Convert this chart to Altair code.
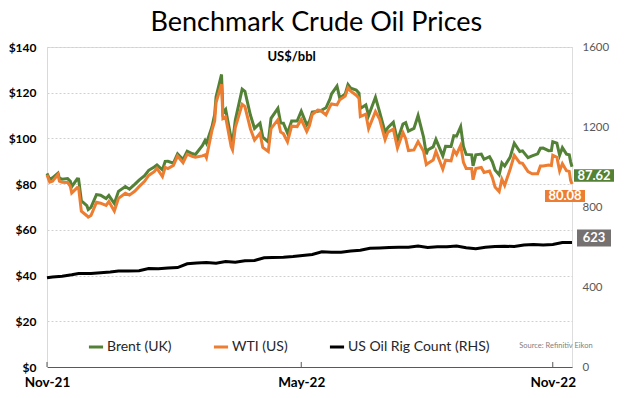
import altair as alt
import pandas as pd

# ---------------- data ----------------
dates = [
    "2021-11-01", "2021-11-03", "2021-11-05", "2021-11-09", "2021-11-10", "2021-11-12",
    "2021-11-16", "2021-11-18", "2021-11-19", "2021-11-23", "2021-11-24", "2021-11-26",
    "2021-11-30", "2021-12-01", "2021-12-03", "2021-12-07", "2021-12-10", "2021-12-14",
    "2021-12-16", "2021-12-20", "2021-12-23", "2021-12-28", "2021-12-31",
    "2022-01-04", "2022-01-07", "2022-01-11", "2022-01-14", "2022-01-18", "2022-01-20",
    "2022-01-24", "2022-01-26", "2022-01-28", "2022-02-01", "2022-02-04", "2022-02-08",
    "2022-02-11", "2022-02-15", "2022-02-17", "2022-02-22", "2022-02-24", "2022-02-25",
    "2022-03-01", "2022-03-03", "2022-03-04", "2022-03-08", "2022-03-09", "2022-03-11",
    "2022-03-15", "2022-03-16", "2022-03-18", "2022-03-23", "2022-03-25", "2022-03-29",
    "2022-04-01", "2022-04-05", "2022-04-07", "2022-04-11", "2022-04-13", "2022-04-18",
    "2022-04-20", "2022-04-22", "2022-04-25", "2022-04-28", "2022-05-02", "2022-05-05",
    "2022-05-09", "2022-05-11", "2022-05-13", "2022-05-17", "2022-05-19", "2022-05-23",
    "2022-05-26", "2022-05-27", "2022-05-31", "2022-06-02", "2022-06-06", "2022-06-08",
    "2022-06-10", "2022-06-14", "2022-06-16", "2022-06-17", "2022-06-21", "2022-06-23",
    "2022-06-28", "2022-07-01", "2022-07-05", "2022-07-07", "2022-07-11", "2022-07-14",
    "2022-07-18", "2022-07-20", "2022-07-22", "2022-07-26", "2022-07-29", "2022-08-02",
    "2022-08-04", "2022-08-05", "2022-08-09", "2022-08-11", "2022-08-16", "2022-08-18",
    "2022-08-22", "2022-08-24", "2022-08-26", "2022-08-29", "2022-08-31", "2022-09-02",
    "2022-09-06", "2022-09-07", "2022-09-09", "2022-09-13", "2022-09-15", "2022-09-19",
    "2022-09-21", "2022-09-23", "2022-09-26", "2022-09-28", "2022-09-30", "2022-10-04",
    "2022-10-07", "2022-10-11", "2022-10-13", "2022-10-17", "2022-10-20", "2022-10-24",
    "2022-10-26", "2022-10-28", "2022-11-01", "2022-11-03", "2022-11-04", "2022-11-07",
    "2022-11-09", "2022-11-11", "2022-11-14", "2022-11-16", "2022-11-17", "2022-11-18",
]
brent = [
    84.71, 81.99, 82.74, 84.78, 82.64, 82.17,
    82.43, 81.24, 78.89, 82.31, 82.25, 72.72,
    70.57, 68.87, 69.88, 75.44, 75.15, 73.70,
    75.02, 71.52, 76.85, 78.94, 77.78,
    80.00, 81.75, 83.72, 86.06, 87.51, 88.38,
    86.27, 89.96, 90.03, 89.16, 93.27, 90.78,
    94.44, 93.28, 92.97, 96.84, 99.08, 97.93,
    104.97, 110.46, 118.11, 127.98, 111.14, 112.67,
    99.91, 98.02, 107.93, 121.60, 120.65, 110.23,
    104.39, 106.64, 100.58, 98.48, 108.78, 113.16,
    106.80, 106.65, 102.32, 107.59, 107.58, 111.90,
    105.94, 107.51, 111.55, 111.93, 112.04, 113.42,
    117.40, 119.43, 122.84, 117.61, 119.51, 123.58,
    122.01, 121.17, 119.81, 113.12, 114.65, 110.05,
    117.98, 111.63, 102.77, 104.65, 107.10, 99.10,
    106.27, 106.92, 103.20, 104.40, 110.01, 100.54,
    93.12, 94.92, 96.31, 99.60, 92.34, 96.59,
    96.48, 101.22, 100.99, 105.09, 96.49, 93.02,
    92.83, 88.00, 92.84, 93.17, 90.84, 92.00,
    89.83, 86.15, 84.06, 89.32, 87.96, 91.80,
    97.92, 94.29, 94.57, 91.62, 92.38, 93.26,
    95.69, 95.77, 94.65, 94.67, 98.57, 97.92,
    92.65, 95.99, 93.14, 92.86, 89.78, 87.62,
]
wti = [
    84.05, 80.86, 81.27, 84.15, 81.34, 80.79,
    80.76, 79.01, 76.10, 78.50, 78.39, 68.15,
    66.18, 65.57, 66.26, 72.05, 71.67, 70.73,
    72.38, 68.23, 73.79, 75.98, 75.21,
    76.99, 78.90, 81.22, 83.82, 85.43, 86.90,
    83.31, 87.35, 86.82, 88.20, 92.31, 89.36,
    93.10, 92.07, 91.76, 92.35, 92.81, 91.59,
    103.41, 107.67, 115.68, 123.70, 108.70, 109.33,
    96.44, 95.04, 104.70, 114.93, 113.90, 104.24,
    99.27, 102.28, 96.03, 94.29, 104.25, 108.21,
    102.75, 102.07, 98.54, 105.36, 105.17, 108.26,
    103.09, 105.71, 110.49, 112.40, 112.21, 110.29,
    114.09, 115.07, 114.67, 116.87, 118.50, 122.11,
    120.67, 118.93, 117.59, 109.56, 110.65, 104.27,
    111.76, 108.43, 99.50, 102.73, 104.09, 95.78,
    102.60, 99.88, 94.70, 94.98, 98.62, 94.42,
    88.54, 89.01, 90.50, 94.34, 86.53, 90.50,
    90.23, 94.89, 93.06, 97.01, 89.55, 86.87,
    86.88, 81.94, 86.79, 87.31, 85.10, 85.73,
    82.94, 78.74, 76.71, 82.15, 79.49, 86.52,
    92.64, 89.35, 89.11, 85.46, 84.51, 84.58,
    87.91, 87.90, 88.37, 88.17, 92.61, 91.79,
    85.83, 88.96, 85.87, 85.59, 81.64, 80.08,
]
rig_dates = [
    "2021-11-01", "2021-11-05", "2021-11-12", "2021-11-19", "2021-11-24", "2021-12-03",
    "2021-12-10", "2021-12-17", "2021-12-23", "2021-12-30", "2022-01-07", "2022-01-14",
    "2022-01-21", "2022-01-28", "2022-02-04", "2022-02-11", "2022-02-18", "2022-02-25",
    "2022-03-04", "2022-03-11", "2022-03-18", "2022-03-25", "2022-04-01", "2022-04-08",
    "2022-04-14", "2022-04-22", "2022-04-29", "2022-05-06", "2022-05-13", "2022-05-20",
    "2022-05-27", "2022-06-03", "2022-06-10", "2022-06-17", "2022-06-24", "2022-07-01",
    "2022-07-08", "2022-07-15", "2022-07-22", "2022-07-29", "2022-08-05", "2022-08-12",
    "2022-08-19", "2022-08-26", "2022-09-02", "2022-09-09", "2022-09-16", "2022-09-23",
    "2022-09-30", "2022-10-07", "2022-10-14", "2022-10-21", "2022-10-28", "2022-11-04",
    "2022-11-11", "2022-11-18",
]
rig = [
    446, 450, 454, 461, 467, 467,
    471, 475, 480, 480, 481, 492,
    491, 495, 497, 516, 520, 522,
    519, 527, 524, 531, 533, 546,
    548, 549, 552, 557, 563, 576,
    574, 574, 580, 584, 594, 595,
    597, 599, 599, 605, 598, 601,
    601, 605, 596, 591, 599, 602,
    604, 602, 610, 612, 610, 613,
    622, 623,
]
series_names = ["Brent (UK)", "WTI (US)", "US Oil Rig Count (RHS)"]
series_colors = ["#538135", "#ED7D31", "#000000"]
x_tick_dates = ["2021-11-01", "2022-05-05", "2022-11-04"]
left_ticks = [0, 20, 40, 60, 80, 100, 120, 140]
right_ticks = [0, 400, 800, 1200, 1600]
end_date = "2022-11-18"
last_brent, last_wti, last_rig = 87.62, 80.08, 623
title_text = "Benchmark Crude Oil Prices"

FONT = "Lato"

price_df = pd.concat([
    pd.DataFrame({"date": pd.to_datetime(dates), "value": brent, "series": series_names[0]}),
    pd.DataFrame({"date": pd.to_datetime(dates), "value": wti, "series": series_names[1]}),
])
rig_df = pd.DataFrame({"date": pd.to_datetime(rig_dates), "value": rig, "series": series_names[2]})
tick_df = pd.DataFrame({"date": pd.to_datetime(x_tick_dates)})
one_df = pd.DataFrame({"k": [1]})


def dt(s):
    y, m, d = (int(p) for p in s.split("-"))
    return alt.DateTime(year=y, month=m, date=d)


xscale = alt.Scale(domain=[dt("2021-11-01"), dt(end_date)])
xaxis = alt.Axis(values=[dt(s) for s in x_tick_dates], format="%b-%y", title=None,
                 labelFontWeight="bold", labelFontSize=13.5, labelColor="black",
                 labelFont=FONT, domainColor="#595959", ticks=False, grid=False,
                 labelPadding=8, labelFlush=False)
xenc = alt.X("date:T", scale=xscale, axis=xaxis)
yscale_left = alt.Scale(domain=[0, 140], nice=False)
yscale_right = alt.Scale(domain=[0, 1600], nice=False)
color_scale = alt.Scale(domain=series_names, range=series_colors)
legend = alt.Legend(orient="none", legendX=40, legendY=291, direction="horizontal",
                    title=None, symbolType="stroke", symbolStrokeWidth=3, symbolSize=200,
                    labelFontSize=14, labelFont=FONT, labelColor="#262626",
                    columnPadding=35, labelOffset=2)

price_line = alt.Chart(price_df).mark_line(strokeWidth=3).encode(
    x=xenc,
    y=alt.Y("value:Q", scale=yscale_left,
            axis=alt.Axis(values=left_ticks, format="$,.0f", title=None,
                          labelFontWeight="bold", labelFontSize=12, labelColor="black",
                          labelFont=FONT, ticks=False, domainColor="#d9d9d9",
                          grid=True, gridDash=[2, 2], gridColor="#d0d0d0", labelPadding=11)),
    color=alt.Color("series:N", scale=color_scale, legend=legend),
)

tick_rules = alt.Chart(tick_df).mark_rule(color="#595959", strokeWidth=1).encode(
    x=xenc, y=alt.Y(datum=0, scale=yscale_left), y2=alt.Y2(datum=2.2)
)


def box(value, date, color, xo, x2o, yo, y2o, scale):
    return alt.Chart(one_df).mark_rect(color=color, xOffset=xo, x2Offset=x2o,
                                       yOffset=yo, y2Offset=y2o).encode(
        x=alt.X(datum=dt(date), scale=xscale), x2=alt.X2(datum=dt(date)),
        y=alt.Y(datum=value, scale=scale), y2=alt.Y2(datum=value),
    )


def text_mark(text, date, value, scale, **kw):
    return alt.Chart(pd.DataFrame({"t": [text]})).mark_text(font=FONT, **kw).encode(
        x=alt.X(datum=dt(date), scale=xscale), y=alt.Y(datum=value, scale=scale),
        text="t:N")


def label(value, text, date, dx, dy, scale):
    return text_mark(text, date, value, scale, color="white", fontWeight="bold",
                     fontSize=13, dx=dx, dy=dy, align="center", baseline="middle")


brent_box = box(last_brent, end_date, "#538135", 2, 42, 2.5, 15, yscale_left)
brent_txt = label(last_brent, f"{last_brent:.2f}", end_date, 22, 9, yscale_left)
wti_box = box(last_wti, end_date, "#ED7D31", -27, 13, 6, 18, yscale_left)
wti_txt = label(last_wti, f"{last_wti:.2f}", end_date, -7, 12, yscale_left)

title_txt = text_mark(title_text, "2022-05-16", 147.0, yscale_left, fontSize=27,
                      color="black", align="center", baseline="alphabetic")
unit_txt = text_mark("US$/bbl", "2022-04-28", 135.5, yscale_left, fontWeight="bold",
                     fontSize=13, color="black")
source_txt = text_mark("Source: Refinitiv Eikon", "2022-12-03", 9.3, yscale_left,
                       fontSize=7.5, color="#7f7f7f", align="right")

rig_line = alt.Chart(rig_df).mark_line(strokeWidth=3).encode(
    x=xenc,
    y=alt.Y("value:Q", scale=yscale_right,
            axis=alt.Axis(orient="right", values=right_ticks, format="d", title=None,
                          grid=False, domain=False, ticks=False, labelColor="#595959",
                          labelFontSize=11.5, labelFont=FONT, labelPadding=10)),
    color=alt.Color("series:N", scale=color_scale, legend=legend),
)
rig_box = box(last_rig, end_date, "#767171", 5, 39, -13, 4, yscale_right)
rig_txt = label(last_rig, f"{last_rig}", end_date, 22, -4.5, yscale_right)

left = alt.layer(price_line, tick_rules, brent_box, brent_txt, wti_box, wti_txt,
                 title_txt, unit_txt, source_txt)
right = alt.layer(rig_line, rig_box, rig_txt)

chart = alt.layer(left, right).resolve_scale(y="independent").properties(
    width=525, height=320,
    autosize=alt.AutoSizeParams(type="none"),
    padding={"left": 39, "top": 39, "right": 60, "bottom": 23},
).configure_view(stroke=None).configure(background="white")

chart.save("out.html", embed_options={"renderer": "svg", "actions": False})
